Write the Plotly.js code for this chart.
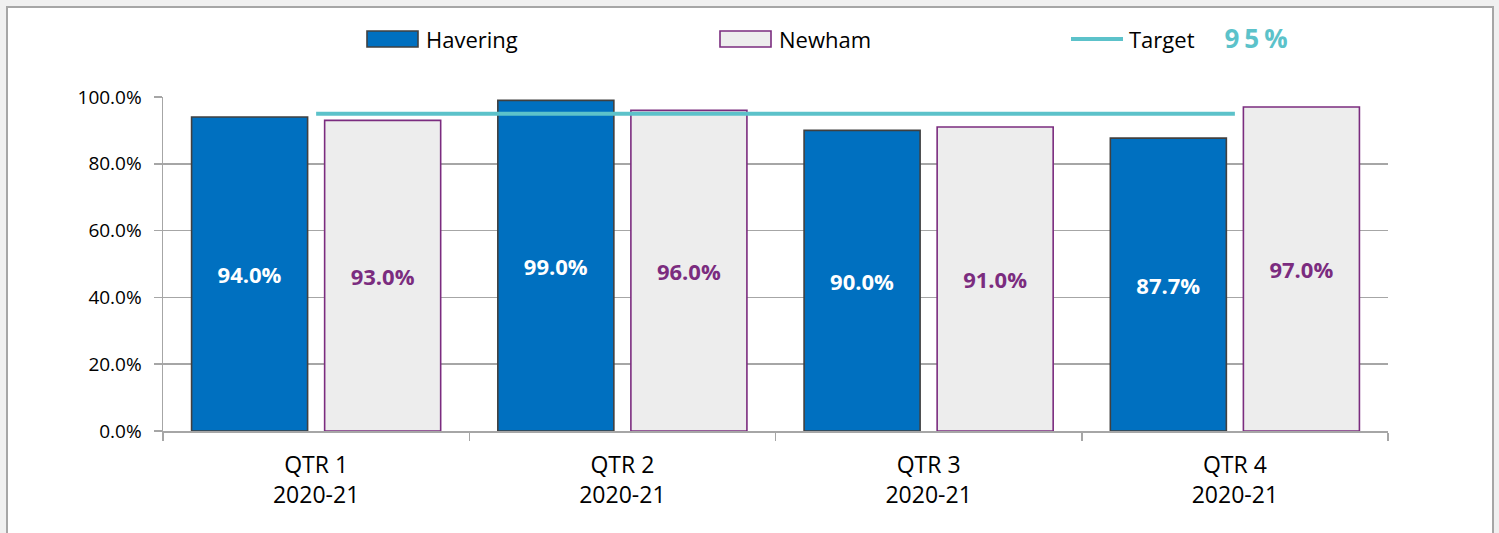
<!DOCTYPE html>
<html>
<head>
<meta charset="utf-8">
<script src="https://cdn.plot.ly/plotly-3.0.1.min.js"></script>
<style>
  html, body { margin: 0; padding: 0; background: #f0f0f0; }
  #chart { width: 1499px; height: 533px; }
  /* spaced-out target value beside the legend */
  g.annotation[data-index="3"] text { letter-spacing: 5px; }
</style>
</head>
<body>
<div id="chart"></div>
<script>
// Quarterly performance, 2020-21
const quarters = ["QTR 1<br>2020-21", "QTR 2<br>2020-21", "QTR 3<br>2020-21", "QTR 4<br>2020-21"];
const havering = [94.0, 99.0, 90.0, 87.7];
const newham = [93.0, 96.0, 91.0, 97.0];
const target = [95, 95, 95, 95];
const targetLabel = "95%";

const W = 1499, H = 533;
const M = { l: 163, r: 111, t: 97, b: 102 };
const PW = W - M.l - M.r, PH = H - M.t - M.b;
// pixel -> paper helpers for the hand-drawn legend and frame
const px = x => (x - M.l) / PW;
const py = y => (H - M.b - y) / PH;

const FONT = "Open Sans, Noto Sans, sans-serif";
const BLUE = "#0070c0", GREY_FILL = "#ededed", PURPLE = "#7b2c7f", TEAL = "#5cc2ca";

const traces = [
  {
    type: "bar", name: "Havering", x: quarters, y: havering,
    marker: { color: BLUE, line: { color: "#404040", width: 1.6 } },
    texttemplate: "%{y:.1f}%", textposition: "inside", insidetextanchor: "middle",
    textangle: 0, constraintext: "none",
    insidetextfont: { family: FONT, size: 22, color: "#ffffff", weight: 700 },
    hoverinfo: "skip"
  },
  {
    type: "bar", name: "Newham", x: quarters, y: newham,
    marker: { color: GREY_FILL, line: { color: PURPLE, width: 1.6 } },
    texttemplate: "%{y:.1f}%", textposition: "inside", insidetextanchor: "middle",
    textangle: 0, constraintext: "none",
    insidetextfont: { family: FONT, size: 22, color: PURPLE, weight: 700 },
    hoverinfo: "skip"
  },
  {
    type: "scatter", mode: "lines", name: "Target", x: quarters, y: target,
    line: { color: TEAL, width: 4 }, hoverinfo: "skip"
  }
];

const legendY = 39;
const shapes = [
  // chart frame
  { type: "rect", xref: "paper", yref: "paper", layer: "below",
    x0: px(7), x1: px(1493), y0: py(545), y1: py(7),
    fillcolor: "#ffffff", line: { color: "#a6a6a6", width: 2 } },
  // legend swatches
  { type: "rect", xref: "paper", yref: "paper",
    x0: px(367), x1: px(418), y0: py(47), y1: py(31),
    fillcolor: BLUE, line: { color: "#404040", width: 1.6 } },
  { type: "rect", xref: "paper", yref: "paper",
    x0: px(720), x1: px(771), y0: py(47), y1: py(31),
    fillcolor: GREY_FILL, line: { color: PURPLE, width: 1.6 } },
  { type: "line", xref: "paper", yref: "paper",
    x0: px(1071), x1: px(1123), y0: py(legendY), y1: py(legendY),
    line: { color: TEAL, width: 4 } }
];

const legendText = (x, text) => ({
  xref: "paper", yref: "paper", x: px(x), y: py(legendY),
  xanchor: "left", yanchor: "middle", showarrow: false, text: text,
  font: { family: FONT, size: 22, color: "#000000" }
});

const annotations = [
  legendText(424, "Havering"),
  legendText(777, "Newham"),
  legendText(1127, "Target"),
  { xref: "paper", yref: "paper", x: px(1230), y: py(legendY - 1),
    xanchor: "left", yanchor: "middle", showarrow: false, text: targetLabel,
    font: { family: FONT, size: 26, color: TEAL, weight: 700 } }
];

const layout = {
  width: W, height: H,
  margin: M,
  paper_bgcolor: "#f0f0f0",
  plot_bgcolor: "rgba(0,0,0,0)",
  showlegend: false,
  barmode: "group",
  bargap: 0.131,
  bargroupgap: 0.128,
  font: { family: FONT, color: "#000000" },
  xaxis: {
    type: "category",
    showline: true, linecolor: "#a6a6a6", linewidth: 1.5,
    ticks: "outside", tickson: "boundaries", ticklen: 8, tickcolor: "#a6a6a6", tickwidth: 1.5,
    tickfont: { family: FONT, size: 23, color: "#000000" },
    ticklabelstandoff: 13,
    showgrid: false, zeroline: false, fixedrange: true
  },
  yaxis: {
    range: [0, 100], dtick: 20, tick0: 0,
    tickformat: ".1f", ticksuffix: "%",
    showline: true, linecolor: "#a6a6a6", linewidth: 1.5,
    ticks: "outside", ticklen: 8, tickcolor: "#a6a6a6", tickwidth: 1.5,
    tickfont: { family: FONT, size: 19, color: "#000000" },
    ticklabelstandoff: 8,
    showgrid: true, gridcolor: "#a6a6a6", gridwidth: 1.5,
    zeroline: false, fixedrange: true
  },
  shapes: shapes,
  annotations: annotations,
  hovermode: false
};

Plotly.newPlot("chart", traces, layout, { displayModeBar: false, staticPlot: true });
</script>
</body>
</html>
